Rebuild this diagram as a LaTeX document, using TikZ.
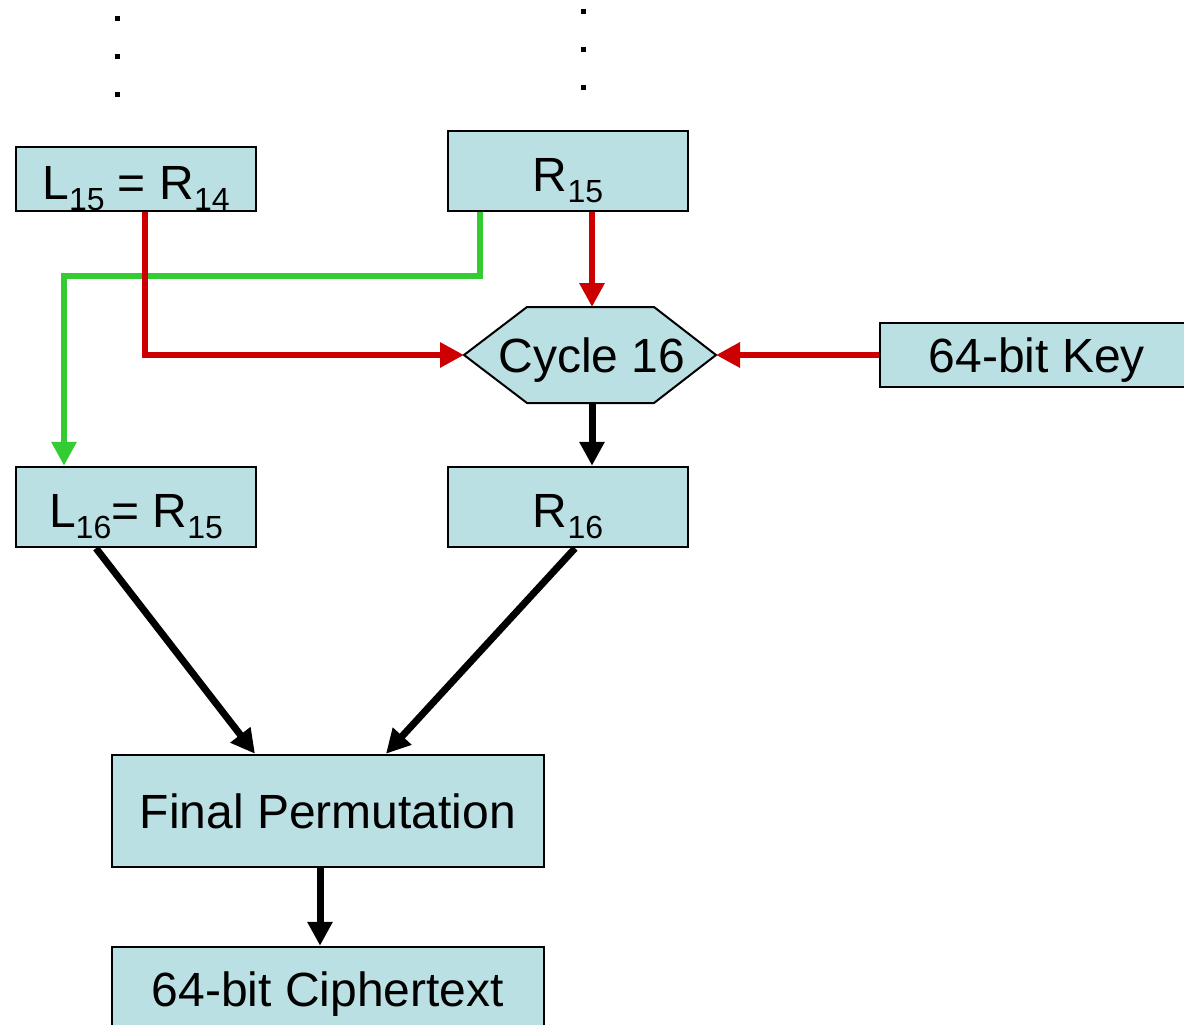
\documentclass[tikz,border=0pt]{standalone}
\usepackage{fontspec}
\setmainfont{Liberation Sans}
\usetikzlibrary{arrows.meta}
\definecolor{boxfill}{RGB}{187,224,227}
\definecolor{arrred}{RGB}{204,0,0}
\definecolor{arrgreen}{RGB}{51,204,51}
\newcommand\sbs[1]{\smash{\raisebox{-11pt}{\fontsize{32}{36}\selectfont #1}}}
\begin{document}
\begin{tikzpicture}[x=1pt,y=-1pt,
  blk/.style={draw=black,line width=2.5pt,fill=boxfill,inner sep=0pt,
    font=\fontsize{48}{56}\selectfont,text height=34pt,text depth=0pt},
  subblk/.style={blk,text height=40pt},
  redarr/.style={draw=arrred,line width=6pt,-{Triangle[length=24pt,width=24pt]}},
  grnarr/.style={draw=arrgreen,line width=6pt,-{Triangle[length=24pt,width=24pt]}},
  blkarr/.style={draw=black,line width=7pt,-{Triangle[length=24pt,width=24pt]}},
  dotmark/.style={fill=black}]
\clip (0,0) rectangle (1184,1025);
% dots
\foreach \yy in {19,57,95} \fill[dotmark] (117,\yy) ++(-2.5,-2.5) rectangle ++(5,5);
\foreach \yy in {12,50,88} \fill[dotmark] (583,\yy) ++(-2.5,-2.5) rectangle ++(5,5);
% boxes
\node[subblk,minimum width=240pt,minimum height=64pt] (l15) at (136,179) {L\sbs{15} = R\sbs{14}};
\node[subblk,minimum width=240pt,minimum height=80pt] (r15) at (568,171) {R\sbs{15}};
\node[blk,minimum width=314pt,minimum height=64pt] (key) at (1037,355) {64-bit Key};
\node[subblk,minimum width=240pt,minimum height=80pt] (l16) at (136,507) {L\sbs{16}= R\sbs{15}};
\node[subblk,minimum width=240pt,minimum height=80pt] (r16) at (568,507) {R\sbs{16}};
\node[blk,minimum width=432pt,minimum height=112pt] (fp) at (328,811) {Final Permutation};
\node[blk,minimum width=432pt,minimum height=84pt] (ct) at (328,989) {64-bit Ciphertext};
% hexagon
\coordinate (cycW) at (464,355);
\coordinate (cycE) at (716,355);
\coordinate (cycN) at (592,307);
\coordinate (cycS) at (592,403);
\draw[line width=2pt,fill=boxfill] (cycW) -- (527,307) -- (654,307) -- (cycE) -- (654,403) -- (527,403) -- cycle;
\node[font=\fontsize{48}{56}\selectfont,inner sep=0pt,text height=34pt,text depth=0pt] (cyc) at (592,355) {Cycle 16};
% connectors
\draw[grnarr] ([xshift=-88pt]r15.south) -- ++(0,64) -| ([xshift=-72pt]l16.north);
\draw[redarr] ([xshift=9pt]l15.south) |- (cycW);
\draw[redarr] ([xshift=24pt]r15.south) -- (cycN);
\draw[redarr] (key.west) -- (cycE);
\draw[blkarr] (cycS) -- ([xshift=24pt]r16.north);
\draw[blkarr] ([xshift=-40pt]l16.south) -- ([xshift=-73pt]fp.north);
\draw[blkarr] ([xshift=7pt]r16.south) -- ([xshift=58pt]fp.north);
\draw[blkarr] ([xshift=-8pt]fp.south) -- ([xshift=-8pt]ct.north);
\end{tikzpicture}
\end{document}
